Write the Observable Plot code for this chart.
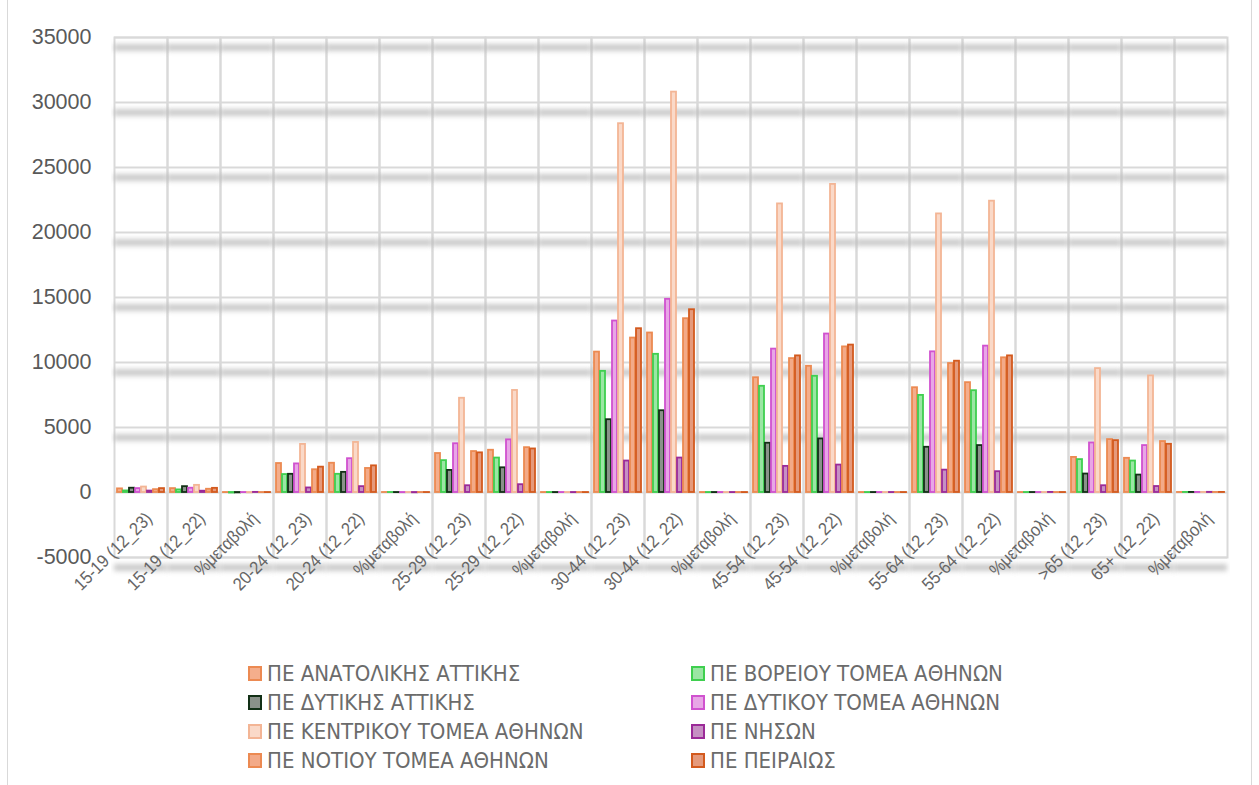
<!DOCTYPE html>
<html>
<head>
<meta charset="utf-8">
<script src="https://cdn.jsdelivr.net/npm/d3@7"></script>
<script src="https://cdn.jsdelivr.net/npm/@observablehq/plot@0.6"></script>
<style>
  html, body { margin: 0; padding: 0; background: #fff; }
  #wrap { position: relative; width: 1259px; height: 785px; overflow: hidden; }
  #frameL { position: absolute; left: 7px; top: 0; width: 0; height: 785px; border-left: 1px solid #d9d9d9; }
  #frameR { position: absolute; left: 1251px; top: 0; width: 0; height: 785px; border-left: 1px solid #d9d9d9; }
  #chart { position: absolute; left: 0; top: 0; }
  #legend { position: absolute; left: 248px; top: 662px; display: grid; grid-template-columns: 443px 400px; row-gap: 7px;
            font-family: "Liberation Sans Narrow", "DejaVu Sans Condensed", "Liberation Sans", sans-serif; font-size: 22px; color: #6b6b6b; }
  .item { display: flex; align-items: center; height: 22px; white-space: nowrap; }
  .sw { width: 10px; height: 11px; border: 2px solid; margin-right: 5px; box-sizing: content-box; }
</style>
</head>
<body>
<div id="wrap">
  <div id="frameL"></div>
  <div id="frameR"></div>
  <div id="chart"></div>
  <div id="legend"></div>
</div>
<script>
// ---- data ----
const categories = [
  "15-19 (12_23)", "15-19 (12_22)", "%μεταβολή",
  "20-24 (12_23)", "20-24 (12_22)", "%μεταβολή",
  "25-29 (12_23)", "25-29 (12_22)", "%μεταβολή",
  "30-44 (12_23)", "30-44 (12_22)", "%μεταβολή",
  "45-54 (12_23)", "45-54 (12_22)", "%μεταβολή",
  "55-64 (12_23)", "55-64 (12_22)", "%μεταβολή",
  ">65 (12_23)", "65+ (12_22)", "%μεταβολή"
];
const seriesNames = [
  "ΠΕ ΑΝΑΤΟΛΙΚΗΣ ΑΤΤΙΚΗΣ", "ΠΕ ΒΟΡΕΙΟΥ ΤΟΜΕΑ ΑΘΗΝΩΝ",
  "ΠΕ ΔΥΤΙΚΗΣ ΑΤΤΙΚΗΣ", "ΠΕ ΔΥΤΙΚΟΥ ΤΟΜΕΑ ΑΘΗΝΩΝ",
  "ΠΕ ΚΕΝΤΡΙΚΟΥ ΤΟΜΕΑ ΑΘΗΝΩΝ", "ΠΕ ΝΗΣΩΝ",
  "ΠΕ ΝΟΤΙΟΥ ΤΟΜΕΑ ΑΘΗΝΩΝ", "ΠΕ ΠΕΙΡΑΙΩΣ"
];
const anatolikisAttikis = [280, 300, -7, 2230, 2250, -1, 3000, 3250, -8, 10800, 12270, -12, 8830, 9710, -9, 8060, 8450, -5, 2700, 2630, 3];
const voreiouTomea     = [120, 200, -40, 1380, 1400, -1, 2450, 2650, -8, 9320, 10630, -12, 8170, 8940, -9, 7470, 7830, -5, 2530, 2420, 5];
const dytikisAttikis   = [330, 450, -27, 1400, 1550, -10, 1700, 1900, -11, 5600, 6290, -11, 3790, 4120, -8, 3480, 3610, -4, 1420, 1340, 6];
const dytikouTomea     = [300, 330, -9, 2200, 2600, -15, 3750, 4050, -7, 13190, 14860, -11, 11030, 12190, -10, 10820, 11260, -4, 3810, 3610, 6];
const kentrikouTomea   = [420, 550, -24, 3700, 3850, -4, 7250, 7850, -8, 28370, 30800, -8, 22200, 23700, -6, 21430, 22410, -4, 9530, 8970, 6];
const nison            = [110, 100, 10, 350, 450, -22, 520, 600, -13, 2420, 2650, -9, 2010, 2110, -5, 1720, 1600, 8, 520, 460, 13];
const notiouTomea      = [220, 250, -12, 1750, 1850, -5, 3150, 3450, -9, 11880, 13370, -11, 10300, 11200, -8, 9920, 10360, -4, 4070, 3920, 4];
const peiraios         = [300, 320, -6, 1950, 2050, -5, 3050, 3350, -9, 12600, 14060, -10, 10510, 11340, -7, 10100, 10510, -4, 3990, 3710, 8];
const yTicks = [-5000, 0, 5000, 10000, 15000, 20000, 25000, 30000, 35000];

// ---- styles ----
const strokeColors = ["#ec8a52", "#3fcf4f", "#123016", "#d052cf", "#f3b595", "#9b2a98", "#ec8a52", "#d35a1e"];
const fillColors   = ["#f4ae8c", "#9be6a4", "#8a928a", "#e8a6e6", "#fad9c8", "#c690c3", "#f3aa88", "#e59a7c"];

// ---- build table ----
const seriesValues = [anatolikisAttikis, voreiouTomea, dytikisAttikis, dytikouTomea, kentrikouTomea, nison, notiouTomea, peiraios];
const catIds = categories.map((c, i) => "c" + String(i).padStart(2, "0"));
const rows = [];
categories.forEach((c, i) => {
  seriesNames.forEach((s, j) => {
    rows.push({cat: catIds[i], label: c, series: s, si: j, value: seriesValues[j][i]});
  });
});

const chart = Plot.plot({
  width: 1259,
  height: 640,
  marginLeft: 113,
  marginRight: 31,
  marginTop: 37,
  marginBottom: 83,
  style: {fontFamily: "'Liberation Sans', Arial, sans-serif", fontSize: "21.5px", color: "#595959", background: "transparent"},
  facet: {data: rows, x: "cat"},
  fx: {domain: catIds, padding: 0, axis: null},
  x: {domain: seriesNames, paddingInner: 0.12, paddingOuter: 0.06, axis: null},
  y: {domain: [-5000, 35000], ticks: yTicks, tickSize: 0, tickPadding: 23, tickFormat: d => String(d), label: null},
  color: {type: "identity"},
  marks: [
    Plot.frame({stroke: "#d9d9d9", strokeWidth: 2}),
    Plot.ruleY(yTicks.filter(v => v !== 0), {stroke: "#b8b8b8", strokeWidth: 7, strokeOpacity: 0.75, dy: 10}),
    Plot.ruleY(yTicks, {stroke: "#d9d9d9", strokeWidth: 2}),
    Plot.barY(rows, {
      x: "series", y: "value",
      fill: d => fillColors[d.si], stroke: d => strokeColors[d.si], strokeWidth: 1.8
    }),
    Plot.text(rows, {
      filter: d => d.si === 0,
      y: () => 0,
      text: "label",
      rotate: -45, textAnchor: "end", dx: 8, dy: 23,
      fontSize: 18, fontFamily: "'Liberation Sans', Arial, sans-serif", fill: "#666666"
    })
  ]
});

const svg = d3.select(chart.tagName.toLowerCase() === "svg" ? chart : chart.querySelector("svg"));
// soft shadow under gridlines
svg.append("defs").append("filter").attr("id", "gblur").attr("x", "-5%").attr("y", "-200%").attr("width", "110%").attr("height", "500%")
   .append("feGaussianBlur").attr("stdDeviation", 2.5);
svg.selectAll('g[stroke-width="7"]').attr("filter", "url(#gblur)");
// slightly condense the rotated category labels along their baseline
svg.selectAll('g[aria-label="text"] text').each(function() {
  const t = this.getAttribute("transform") || "";
  this.setAttribute("transform", t + " scale(0.9,1)");
});

document.getElementById("chart").appendChild(chart);

// legend
const legend = d3.select("#legend");
seriesNames.forEach((s, j) => {
  const it = legend.append("div").attr("class", "item");
  it.append("div").attr("class", "sw").style("background", fillColors[j]).style("border-color", strokeColors[j]);
  it.append("span").text(s);
});
</script>
</body>
</html>
